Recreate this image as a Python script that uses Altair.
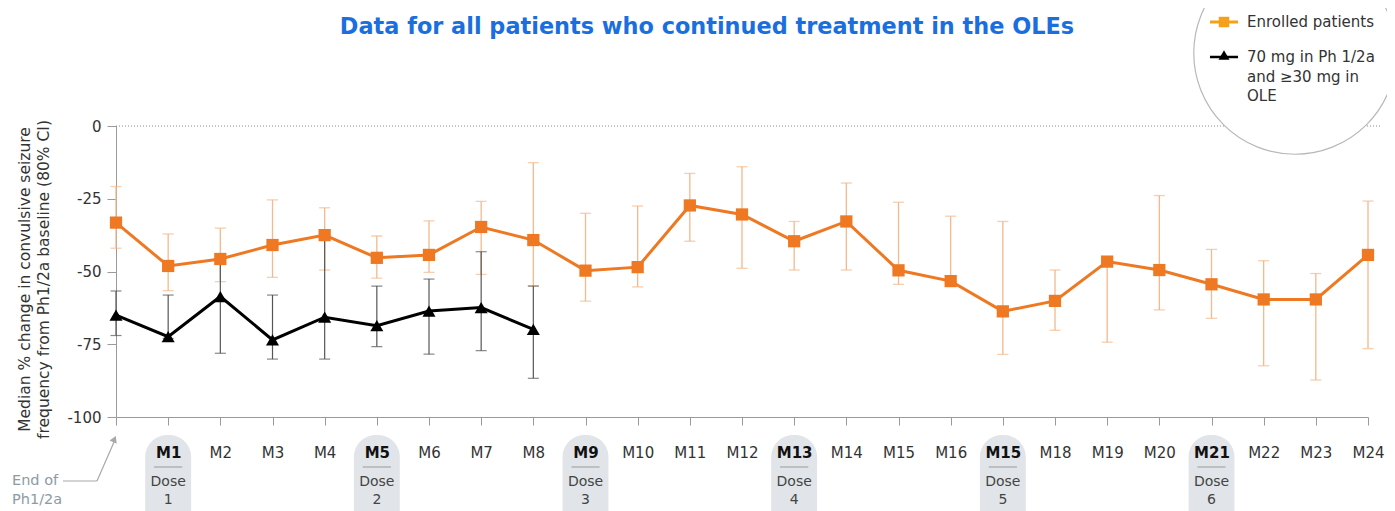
import altair as alt
import pandas as pd

# ---------------- data ----------------
months = list(range(25))
x_labels = ["", "M1", "M2", "M3", "M4", "M5", "M6", "M7", "M8", "M9", "M10", "M11", "M12",
            "M13", "M14", "M15", "M16", "M15", "M18", "M19", "M20", "M21", "M22", "M23", "M24"]

enrolled_median = [-33.2, -48.1, -45.7, -40.9, -37.5, -45.3, -44.3, -34.7, -39.2, -49.7, -48.5,
                   -27.3, -30.4, -39.6, -32.8, -49.6, -53.3, -63.7, -60.1, -46.6, -49.5, -54.4,
                   -59.6, -59.6, -44.3]
enrolled_upper = [-20.8, -37.1, -35.1, -25.4, -28.1, -37.8, -32.6, -25.9, -12.6, -30.0, -27.5,
                  -16.3, -14.0, -32.8, -19.6, -26.2, -31.0, -32.8, -49.5, -46.0, -23.9, -42.4,
                  -46.3, -50.7, -25.8]
enrolled_lower = [-42.0, -56.6, -53.5, -52.0, -49.5, -52.3, -50.3, -51.0, -55.0, -60.2, -55.3,
                  -39.6, -48.9, -49.5, -49.5, -54.4, -53.5, -78.5, -70.2, -74.3, -63.2, -66.1,
                  -82.4, -87.3, -76.5]

hd_months = list(range(9))
hd_median = [-65.0, -72.4, -58.6, -73.5, -65.7, -68.6, -63.6, -62.4, -69.9]
hd_upper = [-56.7, -58.1, -46.0, -58.1, -38.0, -55.0, -52.6, -43.2, -55.0]
hd_lower = [-72.0, -73.0, -78.1, -80.1, -80.1, -75.8, -78.4, -77.2, -86.7]

dose_months = [1, 5, 9, 13, 17, 21]
dose_numbers = ["1", "2", "3", "4", "5", "6"]

y_ticks = [-100, -75, -50, -25, 0]

title_text = "Data for all patients who continued treatment in the OLEs"
y_title = ["Median % change in convulsive seizure", "frequency from Ph1/2a baseline (80% CI)"]
legend_1 = "Enrolled patients"
legend_2 = ["70 mg in Ph 1/2a", "and \u226530 mg in", "OLE"]
end_note = ["End of", "Ph1/2a"]

ORANGE = "#ef7822"
ORANGE_LIGHT = "#f3b98c"
LEG_ORANGE = "#f5a01a"
BLACK = "#000000"
FONT = "DejaVu Sans"

# ---------------- tables ----------------
enr = pd.DataFrame({"month": months, "median": enrolled_median,
                    "upper": enrolled_upper, "lower": enrolled_lower})
hd = pd.DataFrame({"month": hd_months, "median": hd_median,
                   "upper": hd_upper, "lower": hd_lower})
doses = pd.DataFrame({"month": dose_months, "num": dose_numbers})
one = pd.DataFrame({"k": [0]})

label_expr = "[" + ",".join("'" + s + "'" for s in x_labels) + "][datum.value]"
bold_test = "indexof([" + ",".join(str(m) for m in dose_months) + "], datum.value) >= 0"

xscale = alt.Scale(domain=[0, 24], nice=False, zero=False)
yscale = alt.Scale(domain=[-100, 0], nice=False, zero=False)

x_axis = alt.Axis(
    values=months, labelExpr=label_expr, title="", grid=False,
    domainColor="#9a9a9a", tickColor="#9a9a9a", tickSize=8, labelPadding=20,
    labelFontSize=15, labelFont=FONT, labelFlush=False,
    labelFontWeight={"condition": {"test": bold_test, "value": "bold"}, "value": "normal"},
    labelColor={"condition": {"test": bold_test, "value": "#111111"}, "value": "#333333"},
    zindex=1, labelOverlap=False,
)
y_axis = alt.Axis(
    values=y_ticks, labelExpr="'' + datum.value", grid=False,
    domainColor="#9a9a9a", tickColor="#9a9a9a", tickSize=9, labelPadding=6,
    labelFontSize=15, labelFont=FONT, labelColor="#333333", labelFlush=False,
    title=y_title, titleFont=FONT, titleFontSize=15.5, titleFontWeight="normal",
    titleColor="#333333", titleAngle=270, titleX=-92, titleY=153,
    titleAlign="center", titleBaseline="middle", titleLineHeight=19.5,
)


def X(field):
    return alt.X(field, scale=xscale, axis=x_axis)


def Y(field):
    return alt.Y(field, scale=yscale, axis=y_axis)


# ---------------- layers ----------------
zero_line = alt.Chart(one).mark_rule(color="#8a8a8a", strokeDash=[1, 2], strokeWidth=1).encode(
    x=alt.value(0), x2=alt.value(1264), y=alt.datum(0, scale=yscale)
)

# pills behind dose month labels
pills = alt.Chart(doses).transform_calculate(
    x0="datum.month - 0.44", x1="datum.month + 0.44"
).mark_rect(color="#e1e4e8", cornerRadius=22).encode(
    x=X("x0:Q"), x2="x1:Q", y=alt.value(309), y2=alt.value(420)
)
seps = alt.Chart(doses).transform_calculate(
    x0="datum.month - 0.27", x1="datum.month + 0.27"
).mark_rule(color="#9a9a9a", strokeWidth=1).encode(
    x=X("x0:Q"), x2="x1:Q", y=alt.value(341)
)
dose_word = alt.Chart(doses).mark_text(font=FONT, fontSize=14, color="#444444",
                                       baseline="middle").encode(
    x=X("month:Q"), y=alt.value(356), text=alt.value("Dose")
)
dose_num = alt.Chart(doses).mark_text(font=FONT, fontSize=14, color="#444444",
                                      baseline="middle").encode(
    x=X("month:Q"), y=alt.value(374), text="num:N"
)

# error bars
enr_err = alt.Chart(enr).mark_rule(color=ORANGE_LIGHT, strokeWidth=1.3).encode(
    x=X("month:Q"), y=Y("lower:Q"), y2="upper:Q"
)
enr_cap_hi = alt.Chart(enr).mark_tick(color=ORANGE_LIGHT, orient="horizontal", size=11,
                                      thickness=1.3).encode(x=X("month:Q"), y=Y("upper:Q"))
enr_cap_lo = alt.Chart(enr).mark_tick(color=ORANGE_LIGHT, orient="horizontal", size=11,
                                      thickness=1.3).encode(x=X("month:Q"), y=Y("lower:Q"))
hd_err = alt.Chart(hd).mark_rule(color="#555555", strokeWidth=1.2).encode(
    x=X("month:Q"), y=Y("lower:Q"), y2="upper:Q"
)
hd_cap_hi = alt.Chart(hd).mark_tick(color="#555555", orient="horizontal", size=11,
                                    thickness=1.2).encode(x=X("month:Q"), y=Y("upper:Q"))
hd_cap_lo = alt.Chart(hd).mark_tick(color="#555555", orient="horizontal", size=11,
                                    thickness=1.2).encode(x=X("month:Q"), y=Y("lower:Q"))

# series lines + markers
enr_line = alt.Chart(enr).mark_line(color=ORANGE, strokeWidth=3).encode(
    x=X("month:Q"), y=Y("median:Q")
)
enr_pts = alt.Chart(enr).mark_point(shape="square", filled=True, opacity=1, color=ORANGE,
                                    size=150).encode(x=X("month:Q"), y=Y("median:Q"))
hd_line = alt.Chart(hd).mark_line(color=BLACK, strokeWidth=3).encode(
    x=X("month:Q"), y=Y("median:Q")
)
hd_pts = alt.Chart(hd).mark_point(shape="triangle-up", filled=True, opacity=1, color=BLACK,
                                  size=170).encode(x=X("month:Q"), y=Y("median:Q"))

# title
title = alt.Chart(one).mark_text(font=FONT, fontSize=22.4, fontWeight="bold", color="#1a6fe0",
                                 align="center", baseline="middle").encode(
    x=alt.value(591), y=alt.value(-99), text=alt.value(title_text)
)

# legend (circle callout)
leg_circle = alt.Chart(one).mark_point(shape="circle", filled=True, fill="white", opacity=1,
                                       stroke="#b8b8b8", strokeWidth=1.2, size=41000).encode(
    x=alt.value(1179), y=alt.value(-73)
)
leg_line1 = alt.Chart(one).mark_rule(color=LEG_ORANGE, strokeWidth=3).encode(
    x=alt.value(1094), x2=alt.value(1122), y=alt.value(-104)
)
leg_pt1 = alt.Chart(one).mark_point(shape="square", filled=True, opacity=1, color=LEG_ORANGE,
                                    size=110).encode(x=alt.value(1108), y=alt.value(-104))
leg_txt1 = alt.Chart(one).mark_text(font=FONT, fontSize=15, color="#333333", align="left",
                                    baseline="middle").encode(
    x=alt.value(1131), y=alt.value(-104), text=alt.value(legend_1)
)
leg_line2 = alt.Chart(one).mark_rule(color=BLACK, strokeWidth=2.5).encode(
    x=alt.value(1094), x2=alt.value(1122), y=alt.value(-69)
)
leg_pt2 = alt.Chart(one).mark_point(shape="triangle-up", filled=True, opacity=1, color=BLACK,
                                    size=120).encode(x=alt.value(1108), y=alt.value(-71))
leg_txt2 = alt.Chart(one).mark_text(font=FONT, fontSize=15, color="#333333", align="left",
                                    baseline="middle", lineHeight=19.5).encode(
    x=alt.value(1131), y=alt.value(-69), text=alt.value(legend_2)
)

# "End of Ph1/2a" annotation
note_txt = alt.Chart(one).mark_text(font=FONT, fontSize=14.5, color="#8c9ba6", align="left",
                                    baseline="middle", lineHeight=19).encode(
    x=alt.value(-104), y=alt.value(355), text=alt.value(end_note)
)
note_h = alt.Chart(one).mark_rule(color="#a8a8a8", strokeWidth=1.2).encode(
    x=alt.value(-53), x2=alt.value(-19), y=alt.value(355)
)
note_d = alt.Chart(one).mark_rule(color="#a8a8a8", strokeWidth=1.2).encode(
    x=alt.value(-19), x2=alt.value(-2), y=alt.value(355), y2=alt.value(316)
)
note_head = alt.Chart(one).mark_point(shape="triangle-up", filled=True, opacity=1,
                                      color="#a8a8a8", size=60, angle=24).encode(
    x=alt.value(-1.5), y=alt.value(313)
)

chart = alt.layer(
    enr_err, zero_line, pills, seps, dose_word, dose_num,
    enr_cap_hi, enr_cap_lo, hd_err, hd_cap_hi, hd_cap_lo,
    enr_line, enr_pts, hd_line, hd_pts,
    title, leg_circle, leg_line1, leg_pt1, leg_txt1, leg_line2, leg_pt2, leg_txt2,
    note_txt, note_h, note_d, note_head,
).properties(
    width=1252, height=291,
    autosize=alt.AutoSizeParams(type="none"),
    padding={"left": 108, "top": 118, "right": 19, "bottom": 94},
).configure_view(strokeWidth=0)

chart.save("out.html", embed_options={"renderer": "svg", "actions": False})
